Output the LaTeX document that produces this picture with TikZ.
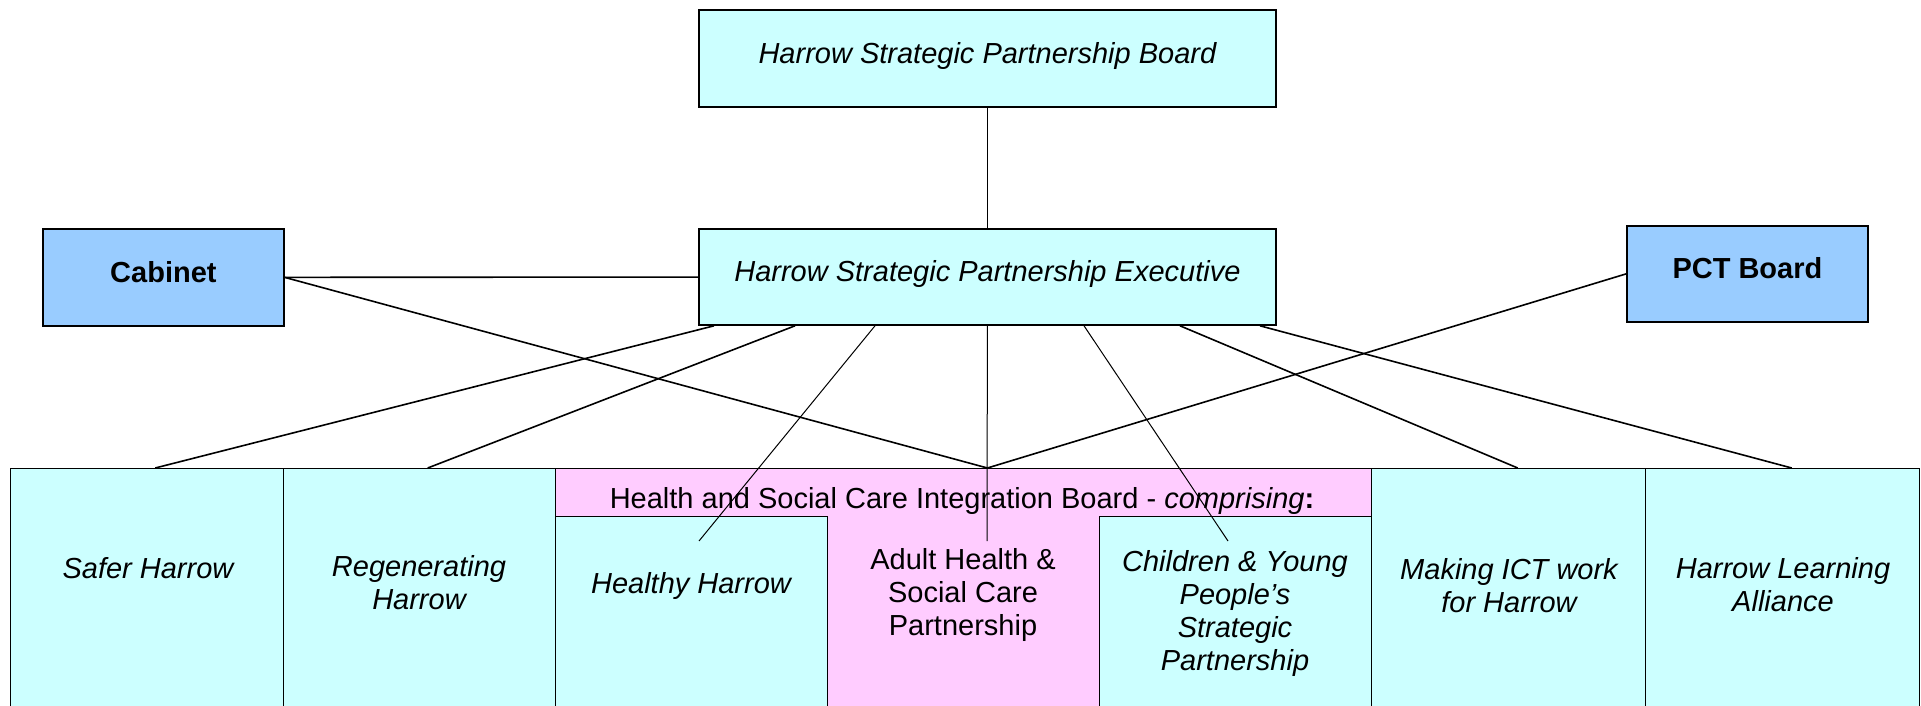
\documentclass[tikz,border=0pt]{standalone}
\usepackage{fontspec}
\setmainfont{Liberation Sans}
\usetikzlibrary{calc}

\tikzset{
	box/.style={draw, line width=0.9pt, inner sep=0pt, anchor=north west, text depth=0.22em, text height=0.72em, font=\fontsize{14.5}{16.5}\selectfont},
	cyanbox/.style={box, fill={rgb, 255:red, 204; green, 255; blue, 255 }},
	bluebox/.style={box, fill={rgb, 255:red, 153; green, 204; blue, 255 }},
	panel/.style={draw, line width=0.7pt, inner sep=0pt, anchor=north west, minimum height=130pt, fill={rgb, 255:red, 204; green, 255; blue, 255 }},
	pinkpanel/.style={panel, fill={rgb, 255:red, 255; green, 204; blue, 255 }},
	txt/.style={anchor=north, inner sep=0pt, align=center, font=\fontsize{14.5}{16.5}\selectfont},
	link/.style={line width=0.8pt},
	thinlink/.style={line width=0.5pt}
}

\begin{document}
\begin{tikzpicture}[x=0.5pt,y=0.5pt,yscale=-1,xscale=1]
	\clip (0,0) rectangle (1921,706);
	
	%Shape: Rectangle (top row)
	\node [cyanbox, minimum width=288.5pt, minimum height=48.5pt] (board) at (698,9) {\itshape Harrow Strategic Partnership Board};
	\node [cyanbox, minimum width=288.5pt, minimum height=48pt] (exec) at (698,228) {\itshape Harrow Strategic Partnership Executive};
	\node [bluebox, minimum width=120.5pt, minimum height=48.5pt] (cabinet) at (42,228) {\bfseries Cabinet};
	\node [bluebox, minimum width=120.5pt, minimum height=48pt] (pct) at (1626,225) {\bfseries PCT Board};
	
	%Shape: Rectangle (bottom row)
	\node [panel, minimum width=136.5pt] (safer) at (10,468) {};
	\node [panel, minimum width=136pt] (regen) at (283,468) {};
	\node [pinkpanel, minimum width=408pt] (hsc) at (555,468) {};
	\node [panel, minimum width=136pt, minimum height=106pt] (healthy) at (555,516) {};
	\node [panel, minimum width=136pt, minimum height=106pt] (children) at (1099,516) {};
	\node [panel, minimum width=137pt] (ict) at (1371,468) {};
	\node [panel, minimum width=137pt] (learning) at (1645,468) {};
	
	% Text Node
	\node [txt] (hsc-t) at (962,487) {Health and Social Care Integration Board - \textit{comprising}\textbf{:}};
	% Text Node
	\node [txt] (safer-t) at (148,557) {\itshape Safer Harrow};
	% Text Node
	\node [txt] (regen-t) at (419,555) {\itshape Regenerating\\\itshape Harrow};
	% Text Node
	\node [txt] (healthy-t) at (691,572) {\itshape Healthy Harrow};
	% Text Node
	\node [txt] (adult-t) at (963,548) {Adult Health \&\\Social Care\\Partnership};
	% Text Node
	\node [txt] (children-t) at (1235,550) {\itshape Children \& Young\\\itshape People’s\\\itshape Strategic\\\itshape Partnership};
	% Text Node
	\node [txt] (ict-t) at (1509,558) {\itshape Making ICT work\\\itshape for Harrow};
	% Text Node
	\node [txt] (learning-t) at (1783,557) {\itshape Harrow Learning\\\itshape Alliance};
	
	%Coordinates where links meet or stop
	\coordinate (hub) at (exec.south |- hsc.north);
	\coordinate (healthy-end) at (699,541);
	\coordinate (adult-end) at (987,541);
	\coordinate (children-end) at (1228,541);
	
	%Straight Lines
	\draw [link] (board) -- (exec);
	\draw [link] (cabinet) -- (exec);
	\draw [link] (cabinet.east) -- (hub);
	\draw [link] (pct.west) -- (hub);
	\draw [link] ($(exec.south west)+(16,0)$) -- ($(safer.north)+(8,0)$);
	\draw [link] ($(exec.south west)+(97,0)$) -- ($(regen.north)+(8,0)$);
	\draw [link] ($(exec.south west)+(482,0)$) -- ($(ict.north)+(9,0)$);
	\draw [link] ($(exec.south west)+(562,0)$) -- ($(learning.north)+(9,0)$);
	\draw [thinlink] ($(exec.south west)+(177,0)$) -- (healthy-end);
	\draw [thinlink] (exec.south) -- (adult-end);
	\draw [thinlink] ($(exec.south west)+(386,0)$) -- (children-end);
	
\end{tikzpicture}
\end{document}
